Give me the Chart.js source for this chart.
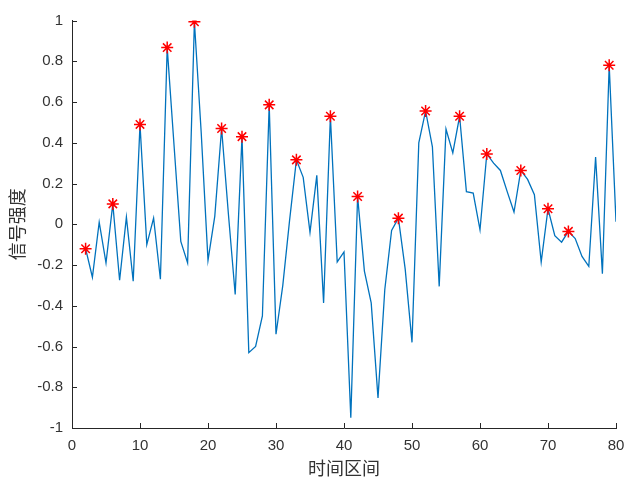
<!DOCTYPE html>
<html>
<head>
<meta charset="utf-8">
<script src="https://cdn.jsdelivr.net/npm/chart.js@4/dist/chart.umd.min.js"></script>
<style>
  html, body { margin: 0; padding: 0; background: #ffffff; }
  #wrap { width: 625px; height: 479px; }
</style>
</head>
<body>
<div id="wrap"><canvas id="c" width="625" height="479"></canvas></div>
<script>
// ---- data ----
const timeX = [2,3,4,5,6,7,8,9,10,11,12,13,14,15,16,17,18,19,20,21,22,23,24,25,26,27,28,29,30,31,32,33,34,35,36,37,38,39,40,41,42,43,44,45,46,47,48,49,50,51,52,53,54,55,56,57,58,59,60,61,62,63,64,65,66,67,68,69,70,71,72,73,74,75,76,77,78,79,80];
const signal = [-0.12,-0.26,0.01,-0.19,0.10,-0.275,0.035,-0.28,0.49,-0.10,0.03,-0.27,0.867,0.39,-0.084,-0.19,0.994,0.45,-0.177,0.04,0.47,0.05,-0.345,0.43,-0.63,-0.60,-0.45,0.586,-0.54,-0.30,0.02,0.316,0.23,-0.04,0.24,-0.386,0.53,-0.185,-0.136,-0.95,0.136,-0.23,-0.386,-0.852,-0.32,-0.03,0.03,-0.22,-0.58,0.40,0.556,0.38,-0.305,0.467,0.35,0.53,0.16,0.153,-0.027,0.345,0.30,0.264,0.16,0.06,0.264,0.22,0.145,-0.185,0.076,-0.056,-0.088,-0.035,-0.07,-0.158,-0.207,0.33,-0.243,0.78,0.012];
const peakX = [2,6,10,14,18,22,25,29,33,38,42,48,52,57,61,66,70,73,79];
const xTicks = [0,10,20,30,40,50,60,70,80];
const yTicks = [-1,-0.8,-0.6,-0.4,-0.2,0,0.2,0.4,0.6,0.8,1];
const xTitle = '时间区间';
const yTitle = '信号强度';

const linePts = timeX.map((x, i) => ({x: x, y: signal[i]}));
const peakPts = peakX.map(x => ({x: x, y: signal[timeX.indexOf(x)]}));

const inwardTicks = {
  id: 'inwardTicks',
  afterDraw(chart) {
    const ctx = chart.ctx, xs = chart.scales.x, ys = chart.scales.y;
    const a = chart.chartArea;
    ctx.save();
    ctx.strokeStyle = '#262626';
    ctx.lineWidth = 1;
    ctx.beginPath();
    xTicks.forEach(v => {
      const px = Math.round(xs.getPixelForValue(v)) + 0.5;
      ctx.moveTo(px, a.bottom);
      ctx.lineTo(px, a.bottom - 5);
    });
    yTicks.forEach(v => {
      const py = Math.round(ys.getPixelForValue(v)) + 0.5;
      ctx.moveTo(a.left, py);
      ctx.lineTo(a.left + 5, py);
    });
    ctx.stroke();
    ctx.restore();
  }
};

const tickFont = {family: '"Liberation Sans", Arial, sans-serif', size: 15};
const titleFont = {family: '"Noto Sans CJK SC", sans-serif', size: 18};

new Chart(document.getElementById('c'), {
  type: 'line',
  data: {
    datasets: [
      {
        data: peakPts,
        showLine: false,
        pointStyle: 'star',
        pointRadius: 6,
        pointHoverRadius: 6,
        pointBorderColor: '#ff0000',
        pointBackgroundColor: '#ff0000',
        pointBorderWidth: 1.5,
        order: 0
      },
      {
        data: linePts,
        borderColor: '#0072BD',
        borderWidth: 1.3,
        pointRadius: 0,
        tension: 0,
        fill: false,
        order: 1
      }
    ]
  },
  options: {
    responsive: false,
    animation: false,
    devicePixelRatio: 1,
    layout: {padding: {top: 20.5, right: 9, bottom: 0, left: 0}},
    plugins: {legend: {display: false}, tooltip: {enabled: false}},
    scales: {
      x: {
        type: 'linear',
        min: 0, max: 80,
        afterBuildTicks: s => { s.ticks = xTicks.map(v => ({value: v})); },
        afterFit: s => { s.height = 51; s.paddingLeft = 0; s.paddingRight = 0; },
        grid: {display: false, drawTicks: false},
        border: {display: true, color: '#262626', width: 1},
        ticks: {font: tickFont, color: '#333333', padding: 9, maxRotation: 0,
                callback: v => String(v)},
        title: {display: true, text: xTitle, font: titleFont, color: '#333333',
                padding: {top: 0, bottom: 0.5}}
      },
      y: {
        type: 'linear',
        min: -1, max: 1,
        afterBuildTicks: s => { s.ticks = yTicks.map(v => ({value: v})); },
        afterFit: s => { s.width = 72; s.paddingTop = 0; s.paddingBottom = 0; },
        grid: {display: false, drawTicks: false},
        border: {display: true, color: '#262626', width: 1},
        ticks: {font: tickFont, color: '#333333', padding: 9,
                callback: v => String(Math.round(v * 10) / 10)},
        title: {display: true, text: yTitle, font: titleFont, color: '#333333',
                padding: {top: 6, bottom: 0}}
      }
    }
  },
  plugins: [inwardTicks]
});
</script>
</body>
</html>
